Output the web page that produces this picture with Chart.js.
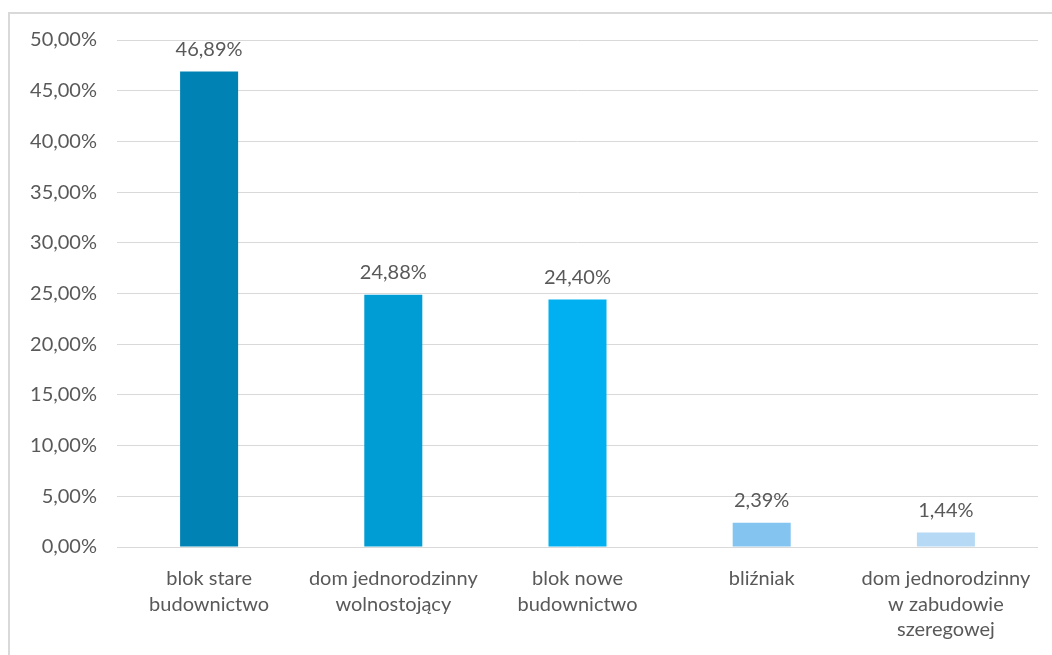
<!DOCTYPE html>
<html>
<head>
<meta charset="utf-8">
<script src="https://cdn.jsdelivr.net/npm/chart.js@4/dist/chart.umd.min.js"></script>
<style>
  html, body { margin: 0; padding: 0; background: #fff; }
  #wrap { position: relative; width: 1052px; height: 655px; overflow: hidden; }
  #frame { position: absolute; left: 8px; top: 12px; width: 1100px; height: 700px;
           border-top: 2px solid #d9d9d9; border-left: 2px solid #d9d9d9; }
  canvas { position: absolute; left: 0; top: 0; }
</style>
</head>
<body>
<div id="wrap">
  <div id="frame"></div>
  <canvas id="barChart" width="1052" height="655"></canvas>
</div>
<script>
// housing types and share of respondents (%)
var categories = [
    ['blok stare', 'budownictwo'],
    ['dom jednorodzinny', 'wolnostojący'],
    ['blok nowe', 'budownictwo'],
    ['bliźniak'],
    ['dom jednorodzinny', 'w zabudowie', 'szeregowej']
];
var shares = [46.89, 24.88, 24.40, 2.39, 1.44];
var barColors = ['#0083b4', '#009dd5', '#00b0f0', '#84c4f0', '#b6daf6'];
var yTicks = [0, 5, 10, 15, 20, 25, 30, 35, 40, 45, 50];

var textColor = '#595959';
var fontFamily = 'Lato, "Open Sans", sans-serif';

function pct(v, digits) {
    return v.toFixed(digits).replace('.', ',') + '%';
}

// draw value labels above each bar
var valueLabels = {
    id: 'valueLabels',
    afterDatasetsDraw: function (chart) {
        var ctx = chart.ctx;
        var meta = chart.getDatasetMeta(0);
        ctx.save();
        ctx.fillStyle = textColor;
        ctx.font = '20px ' + fontFamily;
        ctx.textAlign = 'center';
        ctx.textBaseline = 'bottom';
        meta.data.forEach(function (bar, i) {
            ctx.fillText(pct(shares[i], 2), bar.x, bar.y - 12);
        });
        ctx.restore();
    }
};

var ctx = document.getElementById('barChart').getContext('2d');
var barChart = new Chart(ctx, {
    type: 'bar',
    data: {
        labels: categories,
        datasets: [{
            data: shares,
            backgroundColor: barColors,
            categoryPercentage: 1,
            barPercentage: 0.315
        }]
    },
    options: {
        responsive: false,
        animation: false,
        layout: { padding: { top: 40, right: 14, left: 0, bottom: 0 } },
        plugins: { legend: { display: false }, tooltip: { enabled: false } },
        scales: {
            y: {
                min: 0,
                max: 50,
                afterBuildTicks: function (scale) {
                    scale.ticks = yTicks.map(function (v) { return { value: v }; });
                },
                afterFit: function (scale) { scale.width = 117; },
                border: { display: false },
                grid: { color: '#d9d9d9', lineWidth: 1, drawTicks: false },
                ticks: {
                    padding: 20,
                    color: textColor,
                    font: { family: fontFamily, size: 20 },
                    callback: function (v) { return pct(v, 2); }
                }
            },
            x: {
                afterFit: function (scale) { scale.height = 108; },
                border: { display: false },
                grid: { display: false },
                ticks: {
                    padding: 11,
                    color: textColor,
                    maxRotation: 0,
                    autoSkip: false,
                    font: { family: fontFamily, size: 20, lineHeight: 1.27 }
                }
            }
        }
    },
    plugins: [valueLabels]
});
</script>
</body>
</html>
